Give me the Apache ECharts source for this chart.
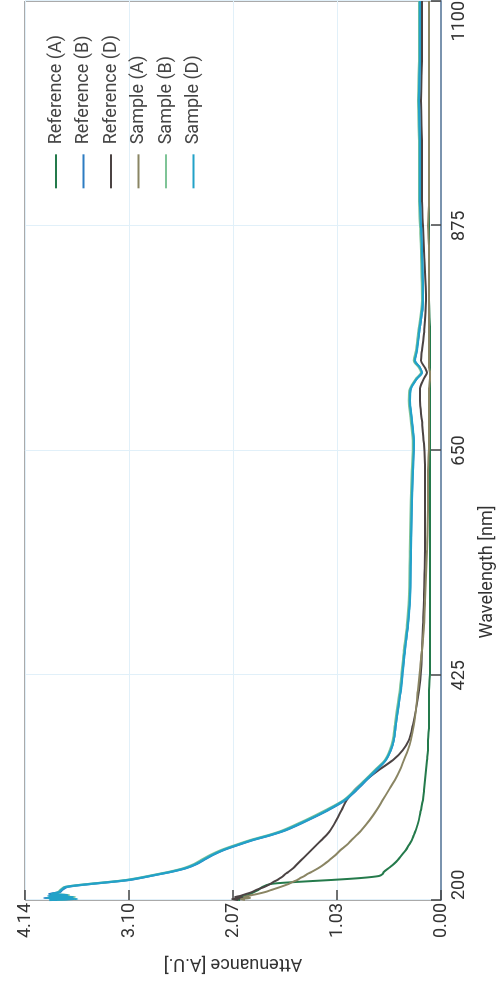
<!DOCTYPE html>
<html>
<head>
<meta charset="utf-8">
<script src="https://cdn.jsdelivr.net/npm/echarts@6/dist/echarts.min.js"></script>
<style>
  html, body { margin: 0; padding: 0; width: 497px; height: 991px; overflow: hidden; background: #fff; }
  /* The plot is laid out landscape and turned a quarter turn counter-clockwise onto the page */
  #chart { position: absolute; left: 0; top: 991px; width: 991px; height: 497px;
           transform-origin: 0 0; transform: rotate(-90deg); }
</style>
</head>
<body>
<div id="chart"></div>
<script>
// Wavelength samples [nm] shared by every spectrum
const wavelengths = [
  200, 201, 202, 203, 204, 205, 206, 208, 210, 213,
  216, 218, 220, 222, 224, 226, 228, 232, 236, 240,
  245, 250, 255, 260, 265, 270, 280, 290, 300, 310,
  320, 330, 340, 350, 360, 375, 390, 410, 430, 450,
  475, 500, 550, 600, 630, 657, 680, 700, 712, 722,
  728, 733, 740, 750, 767, 800, 850, 875, 900, 950,
  1000, 1050, 1100
];

// Attenuance [A.U.] per spectrum
const referenceA = [
  2.00, 2.05, 1.97, 1.99, 1.95, 1.92, 1.90, 1.86, 1.82, 1.78,
  1.70, 1.45, 1.10, 0.80, 0.62, 0.58, 0.57, 0.52, 0.47, 0.43,
  0.39, 0.35, 0.32, 0.29, 0.27, 0.25, 0.22, 0.20, 0.18, 0.17,
  0.16, 0.15, 0.14, 0.13, 0.13, 0.12, 0.12, 0.12, 0.11, 0.11,
  0.11, 0.11, 0.11, 0.11, 0.11, 0.11, 0.11, 0.11, 0.11, 0.11,
  0.11, 0.11, 0.11, 0.11, 0.11, 0.12, 0.12, 0.12, 0.12, 0.12,
  0.12, 0.12, 0.12
];
const referenceB = [
  3.86, 3.68, 3.95, 3.70, 3.84, 3.76, 3.90, 3.79, 3.77, 3.72,
  3.48, 3.28, 3.10, 2.99, 2.89, 2.79, 2.69, 2.53, 2.43, 2.36,
  2.27, 2.16, 2.02, 1.87, 1.69, 1.54, 1.32, 1.12, 0.95, 0.84,
  0.74, 0.64, 0.55, 0.50, 0.47, 0.45, 0.43, 0.40, 0.38, 0.36,
  0.33, 0.31, 0.30, 0.29, 0.28, 0.27, 0.29, 0.31, 0.30, 0.24,
  0.19, 0.21, 0.26, 0.24, 0.22, 0.18, 0.19, 0.20, 0.21, 0.21,
  0.22, 0.21, 0.21
];
const referenceD = [
  2.02, 2.08, 1.96, 2.05, 2.00, 1.97, 1.94, 1.88, 1.84, 1.76,
  1.70, 1.67, 1.63, 1.60, 1.57, 1.55, 1.52, 1.47, 1.43, 1.39,
  1.34, 1.29, 1.24, 1.19, 1.14, 1.10, 1.04, 0.99, 0.94, 0.86,
  0.75, 0.62, 0.48, 0.38, 0.32, 0.28, 0.25, 0.22, 0.20, 0.19,
  0.18, 0.17, 0.16, 0.16, 0.16, 0.17, 0.19, 0.21, 0.21, 0.17,
  0.14, 0.16, 0.20, 0.19, 0.17, 0.15, 0.17, 0.18, 0.19, 0.19,
  0.20, 0.19, 0.19
];
const sampleA = [
  1.95, 1.99, 1.90, 1.96, 1.92, 1.88, 1.83, 1.75, 1.69, 1.60,
  1.52, 1.48, 1.43, 1.40, 1.36, 1.33, 1.29, 1.22, 1.16, 1.11,
  1.05, 1.00, 0.94, 0.89, 0.84, 0.79, 0.71, 0.64, 0.58, 0.52,
  0.46, 0.41, 0.37, 0.33, 0.30, 0.27, 0.25, 0.23, 0.21, 0.19,
  0.17, 0.16, 0.14, 0.13, 0.13, 0.12, 0.12, 0.12, 0.12, 0.11,
  0.11, 0.12, 0.12, 0.12, 0.12, 0.12, 0.12, 0.13, 0.12, 0.12,
  0.12, 0.12, 0.12
];
const sampleB = [
  3.82, 3.70, 3.90, 3.64, 3.86, 3.70, 3.84, 3.81, 3.79, 3.75,
  3.52, 3.32, 3.14, 3.02, 2.92, 2.82, 2.72, 2.56, 2.46, 2.39,
  2.30, 2.19, 2.05, 1.90, 1.72, 1.57, 1.35, 1.15, 0.97, 0.86,
  0.76, 0.66, 0.56, 0.51, 0.48, 0.46, 0.44, 0.41, 0.39, 0.37,
  0.34, 0.32, 0.31, 0.30, 0.29, 0.28, 0.30, 0.32, 0.31, 0.25,
  0.20, 0.22, 0.27, 0.25, 0.23, 0.19, 0.20, 0.21, 0.22, 0.22,
  0.23, 0.22, 0.22
];
const sampleD = [
  3.90, 3.62, 3.93, 3.66, 3.91, 3.72, 3.88, 3.80, 3.78, 3.74,
  3.50, 3.30, 3.12, 3.00, 2.90, 2.80, 2.70, 2.54, 2.44, 2.37,
  2.28, 2.17, 2.03, 1.88, 1.70, 1.55, 1.33, 1.13, 0.96, 0.85,
  0.75, 0.65, 0.55, 0.50, 0.47, 0.45, 0.43, 0.40, 0.38, 0.36,
  0.33, 0.31, 0.30, 0.29, 0.28, 0.27, 0.29, 0.31, 0.30, 0.24,
  0.19, 0.21, 0.26, 0.24, 0.22, 0.18, 0.19, 0.20, 0.21, 0.21,
  0.22, 0.21, 0.21
];

// Axis tick labels
const wavelengthTicks = ['200', '425', '650', '875', '1100'];
const attenuanceTicks = ['0.00', '1.03', '2.07', '3.10', '4.14'];

const legendOrder = ['Reference (A)', 'Reference (B)', 'Reference (D)', 'Sample (A)', 'Sample (B)', 'Sample (D)'];

const FONT = 'Roboto, "Liberation Sans", sans-serif';
const toPairs = values => wavelengths.map((w, i) => [w, values[i]]);

// Drawing order: lower spectra first, the overlapping upper group last
const spectra = [
  { name: 'Reference (A)', values: referenceA, color: '#247a4b', width: 2 },
  { name: 'Reference (D)', values: referenceD, color: '#4b4343', width: 2 },
  { name: 'Sample (A)',    values: sampleA,    color: '#8a8563', width: 2 },
  { name: 'Reference (B)', values: referenceB, color: '#2d7cc2', width: 2 },
  { name: 'Sample (B)',    values: sampleB,    color: '#7fc497', width: 2 },
  { name: 'Sample (D)',    values: sampleD,    color: '#22a2c8', width: 2.2 }
];

const chart = echarts.init(document.getElementById('chart'), null, { renderer: 'canvas' });

chart.setOption({
  animation: false,
  backgroundColor: '#ffffff',
  textStyle: { fontFamily: FONT },
  grid: {
    left: 91, right: 1, top: 25, bottom: 56,
    show: true, borderColor: '#555555', borderWidth: 1,
    containLabel: false, outerBoundsMode: 'none'
  },
  legend: {
    orient: 'vertical', right: 30, top: 42,
    icon: 'rect', itemWidth: 34, itemHeight: 2, itemGap: 9.5,
    data: legendOrder,
    textStyle: { fontSize: 18, lineHeight: 18, color: '#444444', fontFamily: FONT, padding: [0, 0, 0, 5] }
  },
  xAxis: {
    type: 'value', min: 200, max: 1100, interval: 225,
    axisLine: { show: true, onZero: false, lineStyle: { color: '#7a93ae', width: 2 } },
    axisTick: { show: true, inside: true, length: 10, lineStyle: { color: '#444444', width: 1.5 } },
    axisLabel: {
      fontSize: 18, color: '#333333', margin: 9, fontFamily: FONT,
      alignMinLabel: 'left', alignMaxLabel: 'right',
      formatter: v => wavelengthTicks[Math.round((v - 200) / 225)]
    },
    splitLine: { show: true, lineStyle: { color: '#e1f0f9', width: 1 } }
  },
  yAxis: {
    type: 'value', min: 0, max: 4.14, interval: 1.035,
    name: 'Attenuance [A.U.]', nameLocation: 'middle', nameGap: 55,
    nameTextStyle: { fontSize: 18, color: '#333333', fontFamily: FONT },
    axisLine: { show: false },
    axisTick: { show: true, inside: true, length: 10, lineStyle: { color: '#444444', width: 1.5 } },
    axisLabel: {
      fontSize: 18, color: '#333333', margin: 3, fontFamily: FONT,
      verticalAlign: 'middle', padding: [0, 0, 11, 0],
      formatter: v => attenuanceTicks[Math.round(v / 1.035)]
    },
    splitLine: { show: true, lineStyle: { color: '#e1f0f9', width: 1 } }
  },
  graphic: [{
    type: 'text', x: 419, y: 487,
    style: {
      text: 'Wavelength [nm]', fill: '#333333', fontSize: 18, fontFamily: FONT,
      align: 'center', verticalAlign: 'middle'
    }
  }],
  series: spectra.map(s => ({
    name: s.name,
    type: 'line',
    data: toPairs(s.values),
    symbol: 'none',
    smooth: 0.3,
    color: s.color,
    lineStyle: { color: s.color, width: s.width }
  }))
});
</script>
</body>
</html>
